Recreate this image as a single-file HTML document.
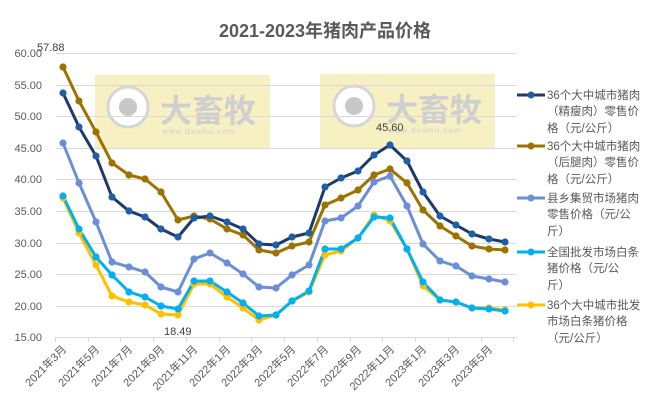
<!DOCTYPE html>
<html><head><meta charset="utf-8"><style>
html,body{margin:0;padding:0;background:#fff;}
svg{display:block;font-family:"Liberation Sans","Noto Sans CJK SC",sans-serif;}
</style></head><body>
<svg width="650" height="410" viewBox="0 0 650 410" xmlns="http://www.w3.org/2000/svg">
<rect width="650" height="410" fill="#fff"/>
<text x="325" y="37" text-anchor="middle" font-size="18" font-weight="bold" fill="#595959">2021-2023年猪肉产品价格</text>
<g>
<rect x="95" y="75" width="175" height="74" fill="#f5eebc" opacity="0.9"/>
<circle cx="128" cy="107" r="20" fill="#fff" stroke="#d6d6d6" stroke-width="3"/>
<circle cx="128" cy="107" r="9" fill="#c8c8c8"/>
<text x="160" y="122" font-size="32" font-weight="bold" fill="#cfcfcf">大畜牧</text>
<text x="162" y="134" font-size="8" fill="#cfcfcf" letter-spacing="1">www.dxumu.com</text>
<rect x="320" y="74" width="175" height="74" fill="#f5eebc" opacity="0.9"/>
<circle cx="354" cy="106" r="20" fill="#fff" stroke="#d6d6d6" stroke-width="3"/>
<circle cx="354" cy="106" r="9" fill="#c8c8c8"/>
<text x="386" y="121" font-size="32" font-weight="bold" fill="#cfcfcf">大畜牧</text>
<text x="388" y="133" font-size="8" fill="#cfcfcf" letter-spacing="1">www.dxumu.com</text>
</g>
<g stroke="#d9d9d9" stroke-width="1">
<line x1="56" x2="517" y1="53.5" y2="53.5"/><line x1="56" x2="517" y1="85.5" y2="85.5"/>
<line x1="56" x2="517" y1="116.5" y2="116.5"/><line x1="56" x2="517" y1="148.5" y2="148.5"/>
<line x1="56" x2="517" y1="179.5" y2="179.5"/><line x1="56" x2="517" y1="211.5" y2="211.5"/>
<line x1="56" x2="517" y1="243.5" y2="243.5"/><line x1="56" x2="517" y1="274.5" y2="274.5"/>
<line x1="56" x2="517" y1="306.5" y2="306.5"/><line x1="56" x2="517" y1="337.5" y2="337.5"/>
</g>
<g stroke="#d9d9d9">
<line x1="55.5" x2="55.5" y1="337" y2="342"/><line x1="88.5" x2="88.5" y1="337" y2="342"/><line x1="120.5" x2="120.5" y1="337" y2="342"/><line x1="153.5" x2="153.5" y1="337" y2="342"/><line x1="186.5" x2="186.5" y1="337" y2="342"/><line x1="219.5" x2="219.5" y1="337" y2="342"/><line x1="251.5" x2="251.5" y1="337" y2="342"/><line x1="284.5" x2="284.5" y1="337" y2="342"/><line x1="317.5" x2="317.5" y1="337" y2="342"/><line x1="350.5" x2="350.5" y1="337" y2="342"/><line x1="382.5" x2="382.5" y1="337" y2="342"/><line x1="415.5" x2="415.5" y1="337" y2="342"/><line x1="448.5" x2="448.5" y1="337" y2="342"/><line x1="481.5" x2="481.5" y1="337" y2="342"/><line x1="513.5" x2="513.5" y1="337" y2="342"/>
</g>
<g font-size="11" fill="#595959" text-anchor="end">
<text x="42" y="57">60.00</text><text x="42" y="89">55.00</text><text x="42" y="120">50.00</text>
<text x="42" y="152">45.00</text><text x="42" y="183">40.00</text><text x="42" y="215">35.00</text>
<text x="42" y="247">30.00</text><text x="42" y="278">25.00</text><text x="42" y="310">20.00</text>
<text x="42" y="341">15.00</text>
</g>
<g font-size="11" fill="#595959" text-anchor="end">
<text transform="translate(67,350) rotate(-45)">2021年3月</text>
<text transform="translate(100,350) rotate(-45)">2021年5月</text>
<text transform="translate(133,350) rotate(-45)">2021年7月</text>
<text transform="translate(165,350) rotate(-45)">2021年9月</text>
<text transform="translate(198,350) rotate(-45)">2021年11月</text>
<text transform="translate(231,350) rotate(-45)">2022年1月</text>
<text transform="translate(263,350) rotate(-45)">2022年3月</text>
<text transform="translate(296,350) rotate(-45)">2022年5月</text>
<text transform="translate(329,350) rotate(-45)">2022年7月</text>
<text transform="translate(362,350) rotate(-45)">2022年9月</text>
<text transform="translate(395,350) rotate(-45)">2022年11月</text>
<text transform="translate(427,350) rotate(-45)">2023年1月</text>
<text transform="translate(460,350) rotate(-45)">2023年3月</text>
<text transform="translate(493,350) rotate(-45)">2023年5月</text>
</g>
<g fill="none" stroke-width="3" stroke-linejoin="round">
<polyline id="s5" stroke="#ffc000" points="63,198 79,233 96,265 112,296 129,302 145,305 161,314 178,315 194,284 210,284 227,297 243,308 259,320 276,315 292,301 309,292 325,255 341,251 358,238 374,215 390,221 407,249 423,286 440,300 456,302 472,308 489,308 505,310"/>
<polyline id="s4" stroke="#00b0f0" points="63,196 79,229 96,257 112,275 129,292 145,297 161,306 178,309 194,281 210,281 227,292 243,303 259,316 276,315 292,301 309,291 325,249 341,249 358,238 374,217 390,218 407,249 423,282 440,300 456,302 472,308 489,309 505,311"/>
<polyline id="s3" stroke="#6b8fd6" points="63,143 79,183 96,222 112,262 129,267 145,272 161,287 178,292 194,259 210,253 227,263 243,274 259,287 276,288 292,275 309,265 325,221 341,218 358,206 374,182 390,176 407,206 423,244 440,261 456,266 472,276 489,279 505,282"/>
<polyline id="s2" stroke="#9c7300" points="63,67 79,101 96,132 112,163 129,175 145,179 161,192 178,220 194,216 210,219 227,229 243,235 259,250 276,253 292,246 309,242 325,205 341,198 358,190 374,175 390,169 407,183 423,210 440,226 456,236 472,246 489,249 505,250"/>
<polyline id="s1" stroke="#1f3a68" points="63,93 79,127 96,156 112,197 129,211 145,217 161,229 178,237 194,218 210,216 227,222 243,229 259,244 276,245 292,237 309,233 325,187 341,178 358,171 374,155 390,145 407,161 423,192 440,216 456,225 472,234 489,239 505,242"/>
</g>
<g id="dots"></g>
<text x="37" y="51" font-size="11" fill="#404040">57.88</text>
<text x="164" y="335" font-size="11" fill="#404040">18.49</text>
<text x="376" y="131" font-size="11" fill="#404040">45.60</text>
<g font-size="11.5" fill="#595959">
<line x1="517" x2="545" y1="95" y2="95" stroke="#1f3a68" stroke-width="3"/><circle cx="531" cy="95" r="3.5" fill="#1f5fa8"/>
<text x="547" y="99">36个大中城市猪肉</text><text x="547" y="115">（精瘦肉）零售价</text><text x="547" y="132">格（元/公斤）</text>
<line x1="517" x2="545" y1="146" y2="146" stroke="#9c7300" stroke-width="3"/><circle cx="531" cy="146" r="3.5" fill="#9c7300"/>
<text x="547" y="150">36个大中城市猪肉</text><text x="547" y="166">（后腿肉）零售价</text><text x="547" y="183">格（元/公斤）</text>
<line x1="517" x2="545" y1="198" y2="198" stroke="#6b8fd6" stroke-width="3"/><circle cx="531" cy="198" r="3.5" fill="#6b8fd6"/>
<text x="547" y="202">县乡集贸市场猪肉</text><text x="547" y="218">零售价格（元/公</text><text x="547" y="235">斤）</text>
<line x1="517" x2="545" y1="252" y2="252" stroke="#00b0f0" stroke-width="3"/><circle cx="531" cy="252" r="3.5" fill="#00b0f0"/>
<text x="547" y="256">全国批发市场白条</text><text x="547" y="272">猪价格（元/公</text><text x="547" y="289">斤）</text>
<line x1="517" x2="545" y1="305" y2="305" stroke="#ffc000" stroke-width="3"/><circle cx="531" cy="305" r="3.5" fill="#ffc000"/>
<text x="547" y="309">36个大中城市批发</text><text x="547" y="325">市场白条猪价格</text><text x="547" y="342">（元/公斤）</text>
</g>
<script>
var cols={s1:"#1f5fa8",s2:"#9c7300",s3:"#6b8fd6",s4:"#00b0f0",s5:"#ffc000"};
var g=document.getElementById("dots"),ns="http://www.w3.org/2000/svg";
["s5","s4","s3","s2","s1"].forEach(function(id){
 document.getElementById(id).getAttribute("points").trim().split(/\s+/).forEach(function(p){
  var a=p.split(","),c=document.createElementNS(ns,"circle");
  c.setAttribute("cx",a[0]);c.setAttribute("cy",a[1]);c.setAttribute("r","3.6");c.setAttribute("fill",cols[id]);
  g.appendChild(c);});
});
</script>
</svg>
</body></html>
